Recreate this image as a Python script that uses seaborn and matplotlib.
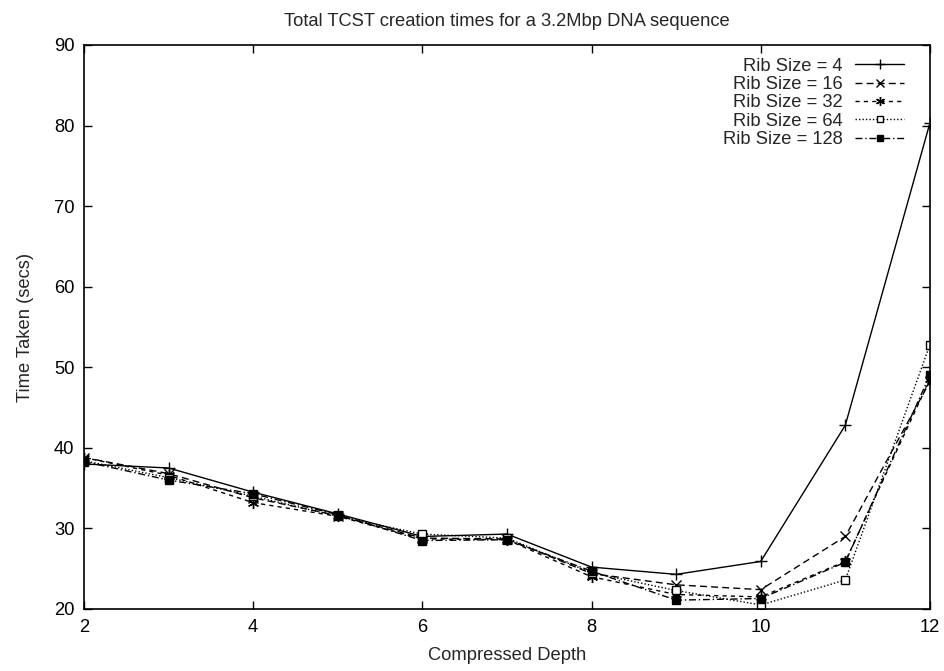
import matplotlib
matplotlib.use("Agg")
import matplotlib.pyplot as plt
import seaborn as sns
import pandas as pd

depth = [2, 3, 4, 5, 6, 7, 8, 9, 10, 11, 12]
rib4 = [38.0, 37.5, 34.5, 31.8, 29.0, 29.3, 25.2, 24.3, 25.9, 42.8, 80.3]
rib16 = [38.8, 36.8, 33.8, 31.6, 28.8, 28.7, 24.4, 23.0, 22.4, 29.0, 48.2]
rib32 = [38.8, 36.6, 33.2, 31.5, 28.7, 28.6, 24.0, 21.8, 21.5, 25.9, 48.5]
rib64 = [38.4, 36.3, 34.0, 31.5, 29.3, 28.8, 24.5, 22.3, 20.5, 23.6, 52.8]
rib128 = [38.3, 36.0, 34.3, 31.7, 28.5, 28.6, 24.7, 21.1, 21.3, 25.8, 49.0]
labels = ["Rib Size = 4", "Rib Size = 16", "Rib Size = 32", "Rib Size = 64", "Rib Size = 128"]
series = [rib4, rib16, rib32, rib64, rib128]

sns.set_theme(style="ticks")
plt.rcParams["font.family"] = ["Liberation Sans", "DejaVu Sans"]

fig = plt.figure(figsize=(9.45, 6.71), dpi=100)
ax = fig.add_axes([0.0889, 0.0924, 0.8951, 0.8406])

styles = [
    dict(linestyle="-", marker="+", markersize=9, markerfacecolor="black", markeredgewidth=1.0),
    dict(linestyle=(0, (5, 3)), marker="x", markersize=7, markerfacecolor="black", markeredgewidth=1.0),
    dict(linestyle=(0, (3, 3)), marker=(6, 2, 0), markersize=8, markerfacecolor="black", markeredgewidth=1.0),
    dict(linestyle=(0, (1, 1.5)), marker="s", markersize=6, markerfacecolor="white", markeredgewidth=1.0),
    dict(linestyle=(0, (5, 2, 1, 2)), marker="s", markersize=6, markerfacecolor="black", markeredgewidth=1.0),
]

for vals, lab, st in zip(series, labels, styles):
    df = pd.DataFrame({"depth": depth, "time": vals})
    sns.lineplot(data=df, x="depth", y="time", ax=ax, color="black", linewidth=1.0,
                 markeredgecolor="black", label=lab, **st)

fs = 13.2
ax.set_xlim(2, 12)
ax.set_ylim(20, 90)
ax.set_xticks([2, 4, 6, 8, 10, 12])
ax.set_yticks([20, 30, 40, 50, 60, 70, 80, 90])
ax.tick_params(direction="in", length=6, width=1.0, top=True, right=True,
               labelsize=fs, pad=7, colors="black")
for s in ax.spines.values():
    s.set_visible(True)
    s.set_linewidth(1.2)
    s.set_color("black")

ax.set_xlabel("Compressed Depth", fontsize=fs, labelpad=8)
ax.set_ylabel("Time Taken (secs)", fontsize=fs, labelpad=14)
ax.set_title("Total TCST creation times for a 3.2Mbp DNA sequence", fontsize=fs, pad=14)

leg = ax.legend(loc="upper right", bbox_to_anchor=(0.985, 1.0), frameon=False,
                markerfirst=False, handlelength=2.7, fontsize=fs, labelspacing=0.07,
                borderaxespad=0.3, handletextpad=0.65, numpoints=1, markerscale=0.8)

fig.savefig("out.png", dpi=100)
